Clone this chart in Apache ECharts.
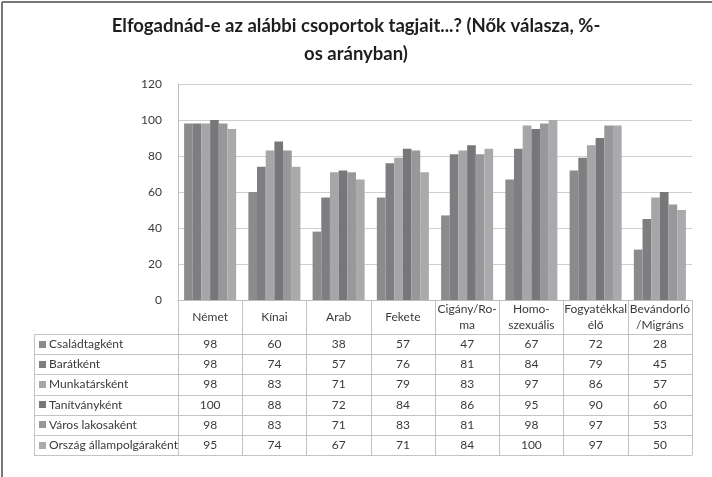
<!DOCTYPE html>
<html lang="hu">
<head>
<meta charset="utf-8">
<script src="https://cdn.jsdelivr.net/npm/echarts@6/dist/echarts.min.js"></script>
<style>
  html, body { margin: 0; padding: 0; background: #fff; }
  #chart { width: 712px; height: 477px; }
</style>
</head>
<body>
<div id="chart"></div>
<script type="text/javascript">
    var categories = ['Német', 'Kínai', 'Arab', 'Fekete', 'Cigány/Ro-\nma', 'Homo-\nszexuális', 'Fogyatékkal\nélő', 'Bevándorló\n/Migráns'];
    var seriesNames = ['Családtagként', 'Barátként', 'Munkatársként', 'Tanítványként', 'Város lakosaként', 'Ország állampolgáraként'];
    var csaladtag = [98, 60, 38, 57, 47, 67, 72, 28];
    var barat = [98, 74, 57, 76, 81, 84, 79, 45];
    var munkatars = [98, 83, 71, 79, 83, 97, 86, 57];
    var tanitvany = [100, 88, 72, 84, 86, 95, 90, 60];
    var varosLakos = [98, 83, 71, 83, 81, 98, 97, 53];
    var allampolgar = [95, 74, 67, 71, 84, 100, 97, 50];
    var colors = ['#8b8b8d', '#7e7e80', '#a6a6a8', '#77777a', '#98989a', '#aaaaac'];

    var allData = [csaladtag, barat, munkatars, tanitvany, varosLakos, allampolgar];

    // layout of plot and data table
    var plotLeft = 178, plotRight = 692, plotTop = 84, plotBottom = 300;
    var tableLeft = 34, headerBottom = 334, rowH = 20.2;
    var colW = (plotRight - plotLeft) / categories.length;
    var font = 'Lato, "Open Sans", sans-serif';

    var graphics = [];
    // outer frame (left and top)
    graphics.push({ type: 'line', shape: { x1: 2, y1: 2, x2: 712, y2: 2 }, style: { stroke: '#777', lineWidth: 2 } });
    graphics.push({ type: 'line', shape: { x1: 2, y1: 2, x2: 2, y2: 477 }, style: { stroke: '#777', lineWidth: 2 } });

    // horizontal table lines
    for (var r = 0; r <= seriesNames.length; r++) {
        var y = Math.round(headerBottom + r * rowH) + 0.5;
        graphics.push({ type: 'line', shape: { x1: tableLeft, y1: y, x2: plotRight, y2: y }, style: { stroke: '#c3c3c3', lineWidth: 1 } });
    }
    graphics.push({ type: 'line', shape: { x1: tableLeft + 0.5, y1: headerBottom, x2: tableLeft + 0.5, y2: Math.round(headerBottom + seriesNames.length * rowH) + 0.5 }, style: { stroke: '#c3c3c3', lineWidth: 1 } });

    // rows: legend key, name and values
    for (var s = 0; s < seriesNames.length; s++) {
        var cy = headerBottom + (s + 0.5) * rowH;
        graphics.push({ type: 'rect', shape: { x: 39, y: Math.round(cy - 3.5), width: 7, height: 7 }, style: { fill: colors[s] } });
        graphics.push({ type: 'text', x: 49, y: cy, style: { text: seriesNames[s], font: '12px ' + font, fill: '#3a3a3a', verticalAlign: 'middle', align: 'left' } });
        for (var c = 0; c < categories.length; c++) {
            graphics.push({ type: 'text', x: plotLeft + (c + 0.5) * colW, y: cy, style: { text: String(allData[s][c]), font: '12px ' + font, fill: '#3a3a3a', verticalAlign: 'middle', align: 'center' } });
        }
    }

    var myChart = echarts.init(document.getElementById('chart'));
    var option = {
        animation: false,
        color: colors,
        title: {
            text: 'Elfogadnád-e az alábbi csoportok tagjait...? (Nők válasza, %-\nos arányban)',
            left: 'center',
            top: 7,
            textStyle: { fontFamily: font, fontSize: 18.5, fontWeight: 'bold', color: '#1e1e1e', lineHeight: 28 }
        },
        grid: { left: plotLeft, right: 712 - plotRight, top: plotTop, bottom: 477 - plotBottom },
        xAxis: {
            type: 'category',
            data: categories,
            axisLine: { lineStyle: { color: '#bdbdbd', width: 1 } },
            axisTick: { show: true, length: 155, lineStyle: { color: '#c3c3c3' } },
            axisLabel: { color: '#3a3a3a', fontFamily: font, fontSize: 12, margin: 17, verticalAlign: 'middle', lineHeight: 16, interval: 0 }
        },
        yAxis: {
            type: 'value',
            min: 0, max: 120, interval: 20,
            axisLine: { show: true, lineStyle: { color: '#bdbdbd' } },
            axisTick: { show: false },
            axisLabel: { color: '#3a3a3a', fontFamily: font, fontSize: 12, margin: 16 },
            splitLine: { lineStyle: { color: '#cfcfcf' } }
        },
        series: seriesNames.map(function (name, i) {
            return {
                name: name,
                type: 'bar',
                data: allData[i],
                barGap: '0%',
                barCategoryGap: '19%',
                itemStyle: { color: colors[i] }
            };
        }),
        graphic: graphics
    };
    myChart.setOption(option);
</script>
</body>
</html>
